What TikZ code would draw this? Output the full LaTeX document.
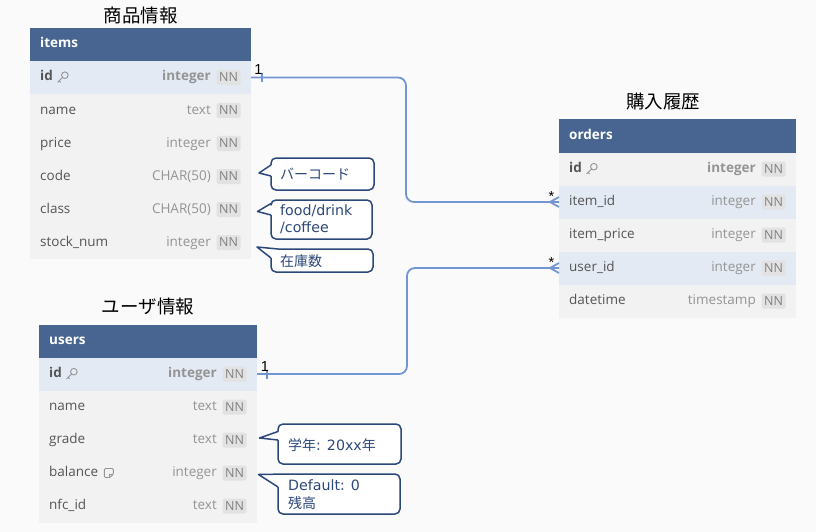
\documentclass[tikz,border=0pt]{standalone}
\usepackage{fontspec}
\setmainfont{Open Sans}
\newfontfamily\jpfont{Noto Sans CJK JP}
\newfontfamily\cardfont{Liberation Sans}
\newfontfamily\latfont{DejaVu Sans}
\newcommand{\lt}[1]{{\latfont\fontsize{14.2}{17.5}\selectfont #1}}
\usetikzlibrary{calc}
\definecolor{bgc}{RGB}{250,250,250}
\definecolor{hdrc}{RGB}{72,101,145}
\definecolor{rowg}{RGB}{242,242,242}
\definecolor{rowb}{RGB}{227,234,244}
\definecolor{namec}{RGB}{85,85,85}
\definecolor{typec}{RGB}{148,148,148}
\definecolor{nnbg}{RGB}{226,226,226}
\definecolor{nntx}{RGB}{128,128,128}
\definecolor{connc}{RGB}{115,150,210}
\definecolor{callc}{RGB}{44,72,122}
\newcommand{\erow}[6]{%
  \node[rowbox, fill=#3, minimum width=#6] (#1) at (#2) {};
  \node[fname] (#1-n) at ([xshift=10pt]#1.west) {#4};
  \node[nnbox] (#1-nn) at ([xshift=-22.5pt]#1.east) {NN};
  \node[ftype] (#1-t) at ([xshift=-40pt]#1.east) {#5};
}
\begin{document}
\begin{tikzpicture}[x=1pt,y=-1pt,
  hdr/.style={fill=hdrc, inner sep=0, outer sep=0, minimum height=33pt, anchor=north west},
  hdrtext/.style={font=\fontsize{13.5}{15}\selectfont\bfseries, text=white, inner sep=0, anchor=west, text height=9pt, text depth=2pt},
  rowbox/.style={inner sep=0, outer sep=0, minimum height=33pt, anchor=north west},
  fname/.style={font=\fontsize{13.5}{15}\selectfont, text=namec, inner sep=0, anchor=west, text height=9pt, text depth=2pt},
  ftype/.style={font=\fontsize{13.5}{15}\selectfont, text=typec, inner sep=0, anchor=east, text height=9pt, text depth=2pt},
  nnbox/.style={fill=nnbg, text=nntx, font=\fontsize{12.5}{14}\selectfont, minimum width=24pt, minimum height=15pt, inner sep=0, rounded corners=1.5pt, text height=8.5pt, text depth=0pt},
  title/.style={font=\jpfont\fontsize{18.5}{22}\selectfont, inner sep=0},
  conn/.style={draw=connc, line width=1.8pt},
  card/.style={font=\cardfont\fontsize{14.5}{16}\selectfont, inner sep=0, anchor=base},
  callline/.style={draw=callc, line width=1.5pt, line join=round},
  calltext/.style={font=\jpfont\fontsize{14}{17.5}\selectfont, text=callc, inner sep=0, anchor=west, align=left},
  iconline/.style={draw=typec, line width=0.9pt},
  keyicon/.pic={
    \draw[iconline] (2.3,-2.3) circle (3.3pt);
    \draw[iconline, line cap=round] (0,0) -- (-4.8,4.8) (-3.4,3.4) -- (-2,4.8);
  },
  noteicon/.pic={
    \draw[iconline, rounded corners=1.2pt] (-4.5,-4.5) -- (4.5,-4.5) -- (4.5,1) -- (1,4.5) -- (-4.5,4.5) -- cycle;
    \draw[iconline] (4.5,1) -- (1,1) -- (1,4.5);
  }
]
\useasboundingbox (0,0) rectangle (816,532);
\fill[bgc] (0,0) rectangle (816,532);
% table bodies (grey rows come from these)
\fill[rowg] (30,61) rectangle (251,259);
\fill[rowg] (559,152.5) rectangle (796,317.5);
\fill[rowg] (39,357.5) rectangle (257,522.5);

% ---------- items ----------
\node[title] (t-items) at (140.5,15) {商品情報};
\node[hdr, minimum width=221pt] (items) at (30,28) {};
\node[hdrtext] (items-h) at ([xshift=10pt]items.west) {items};
\erow{items-id}{items.south west}{rowb}{\bfseries id}{\bfseries integer}{221pt}
\erow{items-name}{items-id.south west}{none}{name}{text}{221pt}
\erow{items-price}{items-name.south west}{none}{price}{integer}{221pt}
\erow{items-code}{items-price.south west}{none}{code}{CHAR(50)}{221pt}
\erow{items-class}{items-code.south west}{none}{class}{CHAR(50)}{221pt}
\erow{items-stock}{items-class.south west}{none}{stock\_num}{integer}{221pt}
\pic at ([xshift=9.5pt]items-id-n.east) {keyicon};

% ---------- orders ----------
\node[title] (t-orders) at (663,101) {購入履歴};
\node[hdr, minimum width=237pt] (orders) at (559,119.5) {};
\node[hdrtext] (orders-h) at ([xshift=10pt]orders.west) {orders};
\erow{orders-id}{orders.south west}{none}{\bfseries id}{\bfseries integer}{237pt}
\erow{orders-itemid}{orders-id.south west}{rowb}{item\_id}{integer}{237pt}
\erow{orders-price}{orders-itemid.south west}{none}{item\_price}{integer}{237pt}
\erow{orders-userid}{orders-price.south west}{rowb}{user\_id}{integer}{237pt}
\erow{orders-dt}{orders-userid.south west}{none}{datetime}{timestamp}{237pt}
\pic at ([xshift=9.5pt]orders-id-n.east) {keyicon};

% ---------- users ----------
\node[title] (t-users) at (148,306) {ユーザ情報};
\node[hdr, minimum width=218pt] (users) at (39,324.5) {};
\node[hdrtext] (users-h) at ([xshift=10pt]users.west) {users};
\erow{users-id}{users.south west}{rowb}{\bfseries id}{\bfseries integer}{218pt}
\erow{users-name}{users-id.south west}{none}{name}{text}{218pt}
\erow{users-grade}{users-name.south west}{none}{grade}{text}{218pt}
\erow{users-bal}{users-grade.south west}{none}{balance}{integer}{218pt}
\erow{users-nfc}{users-bal.south west}{none}{nfc\_id}{text}{218pt}
\pic at ([xshift=9.5pt]users-id-n.east) {keyicon};
\pic at ([xshift=10.5pt]users-bal-n.east) {noteicon};

% ---------- connectors ----------
\coordinate (c1) at (406,0);
\coordinate (c2) at (407,0);
\draw[conn, rounded corners=8pt] (items-id.east) -- (items-id.east -| c1) -- (orders-itemid.west -| c1) -- (orders-itemid.west);
\draw[conn, rounded corners=8pt] (users-id.east) -- (users-id.east -| c2) -- (orders-userid.west -| c2) -- (orders-userid.west);
% one-side ticks
\draw[conn] ([xshift=11pt,yshift=4.5pt]items-id.east) -- ([xshift=11pt,yshift=-4.5pt]items-id.east);
\draw[conn] ([xshift=10pt,yshift=4.5pt]users-id.east) -- ([xshift=10pt,yshift=-4.5pt]users-id.east);
% crow's feet
\draw[conn] ([yshift=5pt]orders-itemid.west) -- ([xshift=-9pt]orders-itemid.west) -- ([yshift=-5pt]orders-itemid.west);
\draw[conn] ([yshift=5pt]orders-userid.west) -- ([xshift=-9pt]orders-userid.west) -- ([yshift=-5pt]orders-userid.west);
% cardinality labels
\node[card] (l1) at ([xshift=7.5pt,yshift=2.5pt]items-id.east) {1};
\node[card] (l2) at ([xshift=8pt,yshift=2.5pt]users-id.east) {1};
\node[card] (s1) at ([xshift=-7.5pt,yshift=1pt]orders-itemid.west) {*};
\node[card] (s2) at ([xshift=-7.5pt,yshift=1pt]orders-userid.west) {*};

% ---------- callouts ----------
% barcode
\fill[white, rounded corners=5pt] (271,158) rectangle (374,190);
\fill[white] (271,165) -- (259,173) -- (271,176) -- cycle;
\draw[callline, rounded corners=5pt] (271,176) -- (271,190) -- (374,190) -- (374,158) -- (271,158) -- (271,165);
\draw[callline] (271,165) -- (259,173) -- (271,176);
\node[calltext] (n-code) at (280,174) {バーコード};
% class
\fill[white, rounded corners=5pt] (271,200) rectangle (372,239);
\fill[white] (271,203.5) -- (257.5,211.5) -- (271,215) -- cycle;
\draw[callline, rounded corners=5pt] (271,215) -- (271,239) -- (372,239) -- (372,200) -- (271,200) -- (271,203.5);
\draw[callline] (271,203.5) -- (257.5,211.5) -- (271,215);
\node[calltext] (n-class) at (280,219.5) {\lt{food/drink}\\\lt{/coffee}};
% stock
\fill[white, rounded corners=5pt] (271,249) rectangle (373,272);
\fill[white] (257,247) -- (278,249) -- (271,249) -- (271,258) -- cycle;
\draw[callline, rounded corners=5pt] (271,258) -- (271,272) -- (373,272) -- (373,249) -- (278,249);
\draw[callline] (278,249) -- (257,247) -- (271,258);
\node[calltext] (n-stock) at (280,261.5) {在庫数};
% grade
\fill[white, rounded corners=5pt] (278,424) rectangle (401,464);
\fill[white] (278,431.5) -- (259.5,438) -- (278,440) -- cycle;
\draw[callline, rounded corners=5pt] (278,440) -- (278,464) -- (401,464) -- (401,424) -- (278,424) -- (278,431.5);
\draw[callline] (278,431.5) -- (259.5,438) -- (278,440);
\node[calltext] (n-grade) at (288,445) {学年\lt{: 20xx}年};
% balance
\fill[white, rounded corners=5pt] (278,474) rectangle (400,514);
\fill[white] (258.5,474.5) -- (287,474) -- (278,474) -- (278,487) -- cycle;
\draw[callline, rounded corners=5pt] (278,487) -- (278,514) -- (400,514) -- (400,474) -- (287,474);
\draw[callline] (287,474) -- (258.5,474.5) -- (278,487);
\node[calltext] (n-bal) at (288,494.5) {\lt{Default: 0}\\残高};
\end{tikzpicture}
\end{document}
